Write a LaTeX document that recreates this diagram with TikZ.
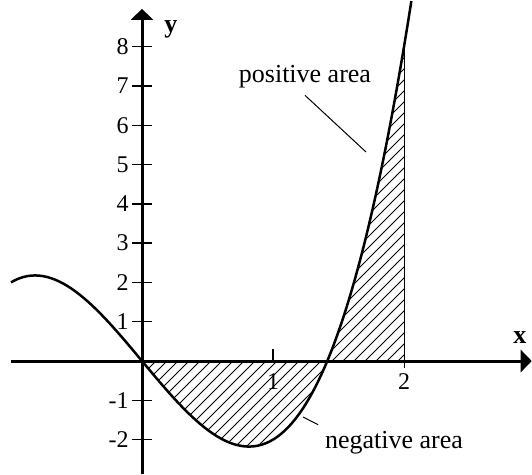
\documentclass[tikz,border=0pt]{standalone}
\usepackage{fontspec}
\setmainfont{Liberation Serif}
\usetikzlibrary{arrows.meta}
\begin{document}
\begin{tikzpicture}[x=65.5pt, y=19.65pt,
		>={Triangle[length=5.5pt, width=11pt]},   %Pfeilspitzen
		declare function={f(\x)=2*(\x*\x*\x-2*\x);},
		achse/.style={line width=1.5pt},
		strich/.style={line width=0.7pt},
		kurve/.style={line width=1.25pt},
		schraffur/.style={line width=0.5pt},
		hinweis/.style={line width=0.5pt},
		zahl/.style={font=\fontsize{12}{14}\selectfont, inner sep=1pt},
		beschr/.style={font=\fontsize{13}{15}\selectfont}]
		%Bildbereich
		\useasboundingbox (-1.084,-2.875) rectangle (2.977,9.186);
		% Flaechen schraffieren
		\begin{scope}
			\clip (0,0) -- plot[domain=0:1.4142, samples=40] (\x,{f(\x)}) -- cycle
			(1.4142,0) -- plot[domain=1.4142:2, samples=40] (\x,{f(\x)}) -- (2,0) -- cycle;
			\foreach \c in {-150,-144.5,...,240}
				\draw[schraffur] (0pt,\c pt) ++(-80pt,-80pt) -- ++(320pt,320pt);
		\end{scope}
		\draw[schraffur] (2,{f(2)}) -- (2,-0.18);
		% Achsen zeichnen
		\draw[achse,->] (-1,0) -- (2.975,0);
		\draw[achse,->] (0,-2.875) -- (0,8.96);
		% Achsen beschriften
		\foreach \y in {-2,-1,1,2,3,4,5,6,7,8}{
			\draw[strich] (-0.08,\y) -- (0.08,\y);
			\node[zahl, anchor=east] (ylab\y) at (-0.084,\y) {\y};
		}
		\draw[strich] (1,0) -- (1,0.3);
		\node[zahl] (xlab1) at (1,-0.53) {1};
		\node[zahl] (xlab2) at (2,-0.53) {2};
		\node[beschr, font=\fontsize{13}{15}\selectfont\bfseries] (xname) at (2.885,0.61) {x};
		\node[beschr, font=\fontsize{13}{15}\selectfont\bfseries] (yname) at (0.22,8.45) {y};
		% Funktion zeichnen
		\draw[kurve] plot[domain=-1:2.057, samples=100, smooth] (\x,{f(\x)});
		% Flaechen beschriften
		\node[beschr] (pos) at (1.244,7.23) {positive area};
		\coordinate (posend) at (1.71,5.318);
		\draw[hinweis] (pos.south) -- (posend);
		\node[beschr] (neg) at (1.924,-2.09) {negative area};
		\coordinate (negend) at (1.229,-1.425);
		\draw[hinweis] (negend) -- (neg.north west);
	\end{tikzpicture}
\end{document}
